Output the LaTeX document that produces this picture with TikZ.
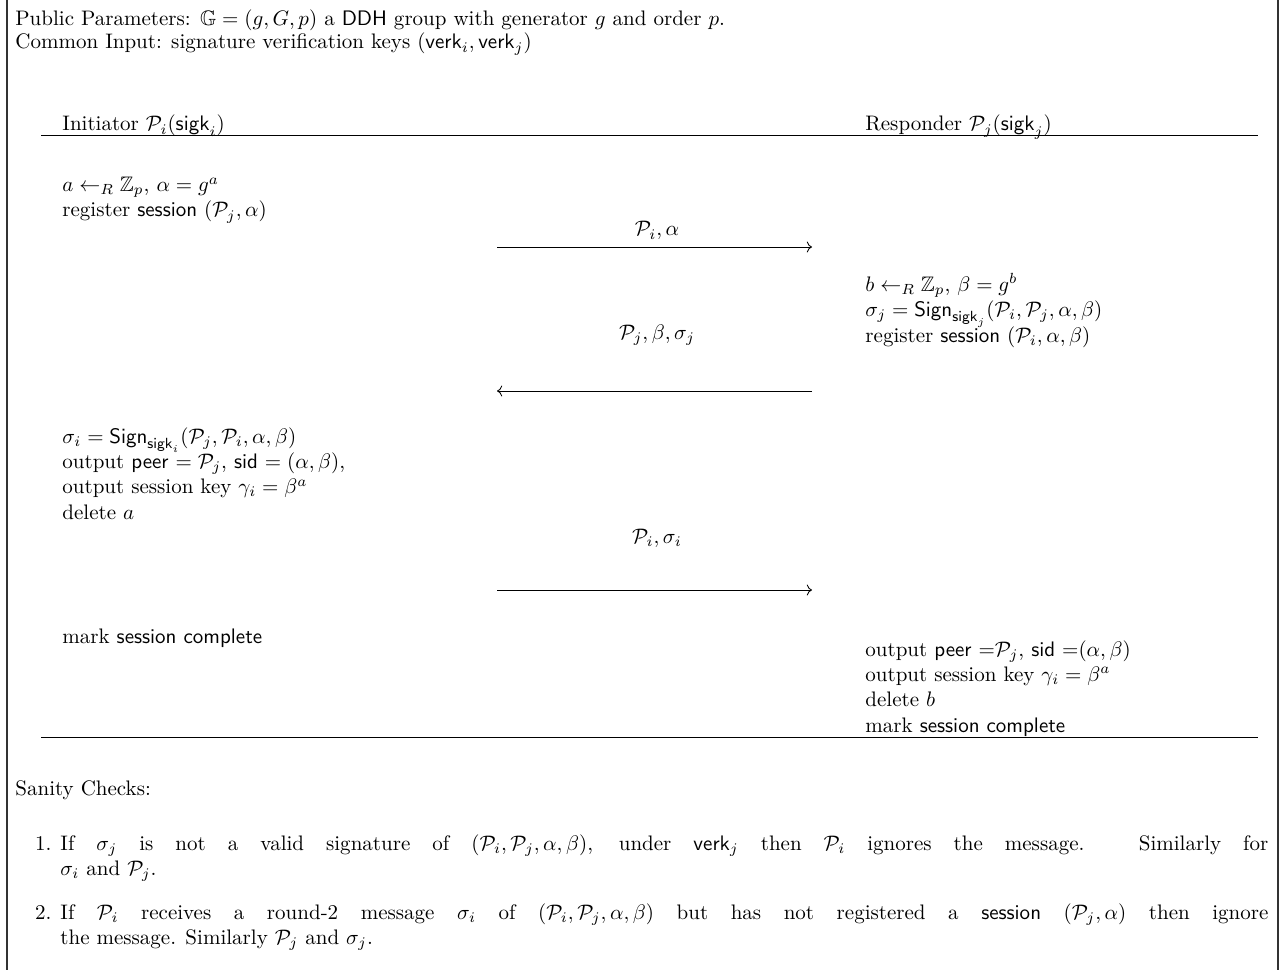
\documentclass[tikz,border=0pt]{standalone}
\usepackage{amsmath}
\usepackage{amssymb}
\usepackage{tikz}
\usetikzlibrary{arrows.meta}

\begin{document}
\begin{tikzpicture}[x=0.476pt, y=-0.476pt,
  txt/.style={anchor=base west, inner sep=0pt, align=left,
    execute at begin node={\lineskiplimit=-\maxdimen}},
  lbl/.style={anchor=base, inner sep=0pt},
  msg/.style={-{To}},
  item/.style={anchor=base west, inner sep=0pt, text width=575pt, align=justify}
]
\useasboundingbox (0,0) rectangle (1288,970);
\draw[line width=0.7pt, black!80] (7,0) -- (7,970);
\draw[line width=0.7pt, black!80] (1278,0) -- (1278,970);

\node[txt] (pub) at (15,26) {Public Parameters: $\mathbb{G}=(g,G,p)$ a \textsf{DDH} group with generator $g$ and order $p$.};
\node[txt] (com) at (15,49) {Common Input: signature verification keys $(\mathsf{verk}_i,\mathsf{verk}_j)$};

\node[txt] (init) at (62,131) {Initiator $\mathcal{P}_i(\mathsf{sigk}_i)$};
\node[txt] (resp) at (865,131) {Responder $\mathcal{P}_j(\mathsf{sigk}_j)$};
\coordinate (top1) at (41,135);
\coordinate (top2) at (1258,135);
\draw (top1) -- (top2);

% initiator, round 1
\node[txt] (ini1) at (62,217) {$a \leftarrow_R \mathbb{Z}_p$, $\alpha = g^a$\\
  register \textsf{session} $(\mathcal{P}_j,\alpha)$};
\node[lbl] (lab1) at (657,236) {$\mathcal{P}_i,\alpha$};
\coordinate (m1a) at (497,247);
\coordinate (m1b) at (812,247);
\draw[msg] (m1a) -- (m1b);

% responder
\node[txt] (res1) at (865,342) {$b \leftarrow_R \mathbb{Z}_p$, $\beta = g^b$\\
  $\sigma_j = \mathsf{Sign}_{\mathsf{sigk}_j}(\mathcal{P}_i,\mathcal{P}_j,\alpha,\beta)$\\
  register \textsf{session} $(\mathcal{P}_i,\alpha,\beta)$};
\node[lbl] (lab2) at (657,339) {$\mathcal{P}_j,\beta,\sigma_j$};
\coordinate (m2a) at (812,391);
\coordinate (m2b) at (497,391);
\draw[msg] (m2a) -- (m2b);

% initiator, round 2
\node[txt] (ini2) at (62,519) {$\sigma_i = \mathsf{Sign}_{\mathsf{sigk}_i}(\mathcal{P}_j,\mathcal{P}_i,\alpha,\beta)$\\
  output \textsf{peer} $=\mathcal{P}_j$, \textsf{sid} $=(\alpha,\beta)$,\\
  output session key $\gamma_i=\beta^a$\\
  delete $a$};
\node[lbl] (lab3) at (657,543) {$\mathcal{P}_i,\sigma_i$};
\coordinate (m3a) at (497,590);
\coordinate (m3b) at (812,590);
\draw[msg] (m3a) -- (m3b);

\node[txt] (ini3) at (62,643) {mark \textsf{session complete}};
\node[txt] (res2) at (865,732) {output \textsf{peer} ${=}\mathcal{P}_j$, \textsf{sid} ${=}(\alpha,\beta)$\\
  output session key $\gamma_i=\beta^a$\\
  delete $b$\\
  mark \textsf{session complete}};

\coordinate (bot1) at (41,737);
\coordinate (bot2) at (1258,737);
\draw (bot1) -- (bot2);

% checks
\node[txt] (san) at (15,795) {Sanity Checks:};
\node[lbl, anchor=base east] (n1) at (52,850) {1.};
\node[item] (chk1) at (60,850) {If $\sigma_j$ is not a valid signature of $(\mathcal{P}_i,\mathcal{P}_j,\alpha,\beta)$, under $\mathsf{verk}_j$ then $\mathcal{P}_i$ ignores the message. Similarly for\linebreak $\sigma_i$ and $\mathcal{P}_j$.};
\node[lbl, anchor=base east] (n2) at (52,919) {2.};
\node[item] (chk2) at (60,919) {If $\mathcal{P}_i$ receives a round-2 message $\sigma_i$ of $(\mathcal{P}_i,\mathcal{P}_j,\alpha,\beta)$ but has not registered a \textsf{session} $(\mathcal{P}_j,\alpha)$ then ignore\linebreak the message. Similarly $\mathcal{P}_j$ and $\sigma_j$.};
\end{tikzpicture}
\end{document}
